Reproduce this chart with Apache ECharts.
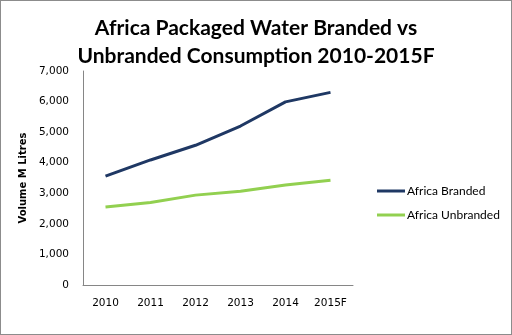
<!DOCTYPE html>
<html><head><meta charset="utf-8">
<script src="https://cdn.jsdelivr.net/npm/echarts@6/dist/echarts.min.js"></script>
<style>
html,body{margin:0;padding:0;background:#fff;}
#c{width:510px;height:333px;border:1px solid #8c8c8c;}
</style></head>
<body><div id="c"></div>
<script>
const categories = ['2010','2011','2012','2013','2014','2015F'];
const branded = [3560, 4090, 4570, 5200, 5990, 6300];
const unbranded = [2550, 2700, 2940, 3070, 3270, 3430];
const seriesNames = ['Africa Branded','Africa Unbranded'];
const titleText = 'Africa Packaged Water Branded vs\nUnbranded Consumption 2010-2015F';
const yAxisName = 'Volume M Litres';

const chart = echarts.init(document.getElementById('c'));
const font = 'Lato, "Open Sans", sans-serif';
const axFont = '"DejaVu Sans", Verdana, sans-serif';
chart.setOption({
  animation:false,
  title:{text:titleText,left:'center',top:8,textStyle:{fontFamily:font,fontWeight:'bold',fontSize:21,lineHeight:28,color:'#000'}},
  legend:{orient:'vertical',left:371,top:179,itemWidth:28,itemHeight:3,itemGap:12,icon:'rect',
    textStyle:{fontFamily:font,fontSize:12,color:'#000',padding:[0,0,0,-3]},data:seriesNames},
  grid:{left:82,top:70,width:270,height:214},
  xAxis:{type:'category',data:categories,boundaryGap:true,
    axisLine:{lineStyle:{color:'#868686'}},axisTick:{show:false},
    axisLabel:{fontFamily:axFont,fontSize:10.5,color:'#000',margin:13}},
  yAxis:{type:'value',min:0,max:7000,interval:1000,name:yAxisName,nameLocation:'middle',nameGap:53,
    nameTextStyle:{fontFamily:axFont,fontWeight:'bold',fontSize:10,color:'#000'},
    axisLine:{show:true,lineStyle:{color:'#868686'}},axisTick:{show:false},splitLine:{show:false},
    axisLabel:{fontFamily:axFont,fontSize:10.5,color:'#000',margin:14,formatter:v=>v.toLocaleString('en-US')}},
  series:[
    {name:seriesNames[0],type:'line',data:branded,symbol:'none',lineStyle:{width:3,color:'#1f3864'},itemStyle:{color:'#1f3864'}},
    {name:seriesNames[1],type:'line',data:unbranded,symbol:'none',lineStyle:{width:3,color:'#92d050'},itemStyle:{color:'#92d050'}}
  ]
});
</script></body></html>
